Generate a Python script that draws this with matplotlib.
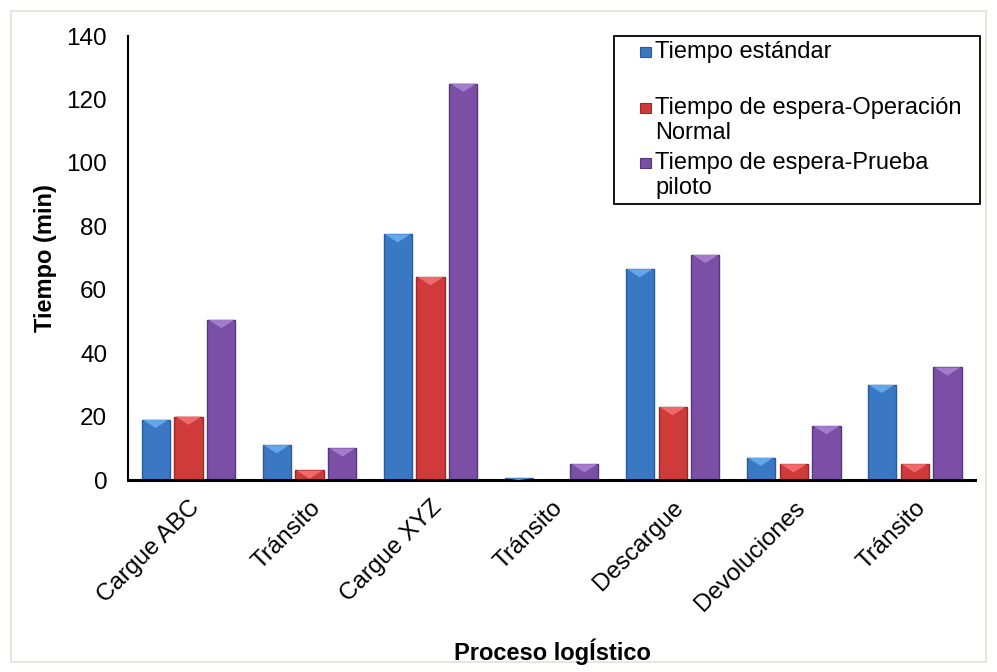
import numpy as np
import matplotlib.pyplot as plt
from matplotlib.patches import Rectangle, Polygon

categorias = ["Cargue ABC", "Tránsito", "Cargue XYZ", "Tránsito",
              "Descargue", "Devoluciones", "Tránsito"]
series = ["Tiempo estándar",
          "Tiempo de espera-Operación\nNormal",
          "Tiempo de espera-Prueba\npiloto"]
tiempo_estandar = [19, 11, 77.5, 0.5, 66.5, 7, 30]
espera_normal = [20, 3, 64, 0, 23, 5, 5]
espera_piloto = [50.5, 10, 125, 5, 71, 17, 35.5]

colores = ["#3b78c4", "#cf3b3b", "#7a4fa5"]
bordes = ["#2a5b96", "#9c2828", "#56387a"]
tapas = ["#62a6ec", "#f06a6a", "#a47ccd"]

plt.rcParams["font.family"] = ["Liberation Sans", "DejaVu Sans"]

fig = plt.figure(figsize=(9.97, 6.72), dpi=100)
ax = fig.add_axes([0.1284, 0.2857, 0.8496, 0.6607])

# borde exterior del grafico
fig.patches.append(Rectangle((0.011, 0.015), 0.978, 0.968, transform=fig.transFigure,
                             fill=False, edgecolor="#e4e2da", linewidth=1.2))

x = np.arange(len(categorias))
paso = 0.272
ancho = 0.232
valores = [tiempo_estandar, espera_normal, espera_piloto]

for k, vals in enumerate(valores):
    pos = x + (k - 1) * paso
    barras = ax.bar(pos, vals, width=ancho, color=colores[k], edgecolor=bordes[k],
                    linewidth=1.0, zorder=2)
    # bisel superior estilo Excel
    for b in barras:
        h = b.get_height()
        if h <= 0:
            continue
        x0 = b.get_x()
        w = b.get_width()
        cap = min(2.6, h)
        ax.add_patch(Polygon([(x0 + 0.01, h), (x0 + w - 0.01, h),
                              (x0 + w * 0.5, h - cap)],
                             closed=True, facecolor=tapas[k], edgecolor="none",
                             zorder=3))

ax.set_xlim(-0.5, len(categorias) - 0.5)
ax.set_ylim(0, 140)
ax.set_yticks(np.arange(0, 141, 20))
ax.set_xticks(x)
ax.set_xticklabels(categorias, rotation=45, ha="right", rotation_mode="anchor")
ax.tick_params(axis="both", length=0, labelsize=17.5)
ax.tick_params(axis="y", pad=15)
ax.tick_params(axis="x", pad=12)

for s in ["top", "right"]:
    ax.spines[s].set_visible(False)
ax.spines["left"].set_linewidth(1.5)
ax.spines["bottom"].set_linewidth(2.2)

ax.set_ylabel("Tiempo (min)", fontsize=17, fontweight="bold", labelpad=7)
fig.text(0.554, 0.030, "Proceso logÍstico", fontsize=17, fontweight="bold",
         ha="center", va="center")

# leyenda dibujada a mano (el marcador queda alineado con la primera linea)
fig.patches.append(Rectangle((0.6158, 0.6964), 0.367, 0.25, transform=fig.transFigure,
                             fill=False, edgecolor="black", linewidth=1.3))
filas_y = [1 - 52 / 672, 1 - 108 / 672, 1 - 163 / 672]
for k, etiqueta in enumerate(series):
    fig.patches.append(Rectangle((0.642, filas_y[k] - 0.0075), 0.0105, 0.0155,
                                 transform=fig.transFigure, facecolor=colores[k],
                                 edgecolor=bordes[k], linewidth=0.8))
    fig.text(0.657, filas_y[k] + 0.0165, etiqueta, fontsize=17, ha="left", va="top",
             linespacing=1.16)

fig.savefig("out.png", dpi=100)
